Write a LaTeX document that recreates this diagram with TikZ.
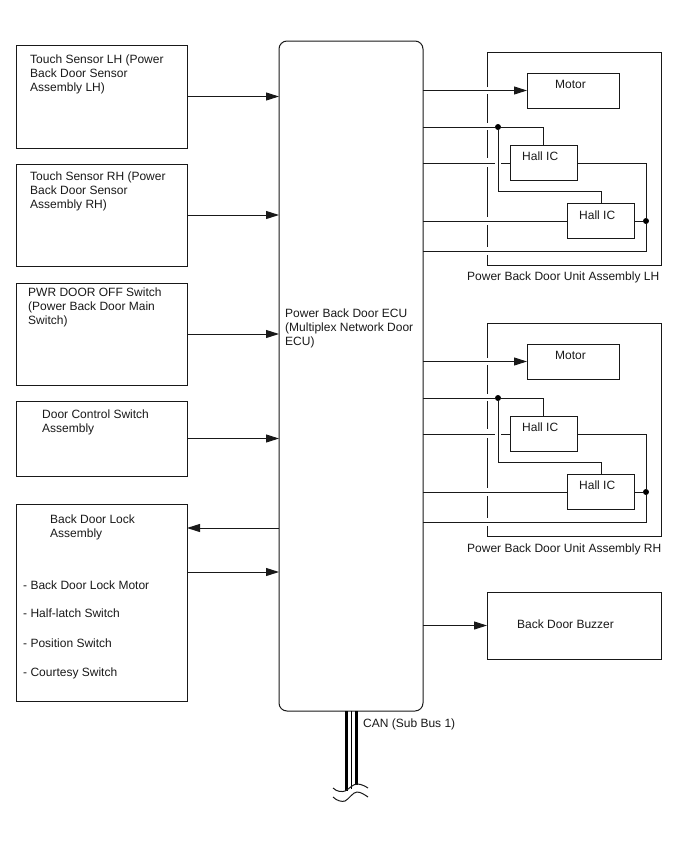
\documentclass[tikz,border=0pt]{standalone}
\usepackage{xcolor}
\usepackage{fontspec}
\usepackage{tikz}
\usetikzlibrary{arrows.meta}
\setmainfont{Liberation Sans}
\definecolor{dark-line}{RGB}{25, 25, 25}
\tikzset{
    boxnode/.style={draw=dark-line, line width=1pt, anchor=north west, inner sep=0pt, outer sep=0pt},
    caption/.style={font=\fontsize{12}{14}\selectfont, align=left, anchor=north west, inner sep=0pt, text=black!90},
    wire/.style={draw=dark-line, line width=1pt},
    feed/.style={wire, -{Triangle[length=13pt,width=8pt]}},
    junction/.style={circle, fill=black, inner sep=0pt, minimum size=6pt},
}

\begin{document}
\begin{tikzpicture}[x=1pt, y=-1pt]
        \useasboundingbox (0,0) rectangle (688,852);
        % ECU
        \node[boxnode, rounded corners=8pt, minimum width=144pt, minimum height=670pt] (ecu) at (279,41) {};
        \node[caption] (ecutext) at (285,309) {Power Back Door ECU\\(Multiplex Network Door\\ECU)};
        % Inputs on the left
        \node[boxnode, minimum width=171pt, minimum height=103pt] (touchl) at (16,45) {};
        \node[caption] (touchltext) at (30,55) {Touch Sensor LH (Power\\Back Door Sensor\\Assembly LH)};
        \node[boxnode, minimum width=171pt, minimum height=102pt] (touchr) at (16,164) {};
        \node[caption] (touchrtext) at (30,172) {Touch Sensor RH (Power\\Back Door Sensor\\Assembly RH)};
        \node[boxnode, minimum width=171pt, minimum height=102pt] (pwr) at (16,283) {};
        \node[caption] (pwrtext) at (28,288) {PWR DOOR OFF Switch\\(Power Back Door Main\\Switch)};
        \node[boxnode, minimum width=171pt, minimum height=75pt] (doorsw) at (16,401) {};
        \node[caption] (doorswtext) at (42,410) {Door Control Switch\\Assembly};
        \draw[feed] (touchl) -- (ecu.west |- touchl);
        \draw[feed] (touchr) -- (ecu.west |- touchr);
        \draw[feed] (pwr) -- (ecu.west |- pwr);
        \draw[feed] (doorsw) -- (ecu.west |- doorsw);
        % Back door lock
        \node[boxnode, minimum width=171pt, minimum height=197pt] (lock) at (16,504) {};
        \node[caption] (locktext) at (50,515) {Back Door Lock\\Assembly};
        \node[caption] (lockmotor) at (23,581) {- Back Door Lock Motor};
        \node[caption] (lockhalf) at (23,609) {- Half-latch Switch};
        \node[caption] (lockpos) at (23,639) {- Position Switch};
        \node[caption] (lockcourtesy) at (23,668) {- Courtesy Switch};
        \coordinate (lockout) at (187,528);
        \coordinate (lockin) at (187,572);
        \draw[feed] (ecu.west |- lockout) -- (lockout);
        \draw[feed] (lockin) -- (ecu.west |- lockin);
        % Unit LH
        \draw[wire] (487,87) -- (487,52) -- (661,52) -- (661,265) -- (487,265) -- (487,255);
        \draw[wire] (487,94) -- (487,123);
        \draw[wire] (487,130) -- (487,158);
        \draw[wire] (487,167) -- (487,217);
        \draw[wire] (487,225) -- (487,247);
        \node[caption] (unitltext) at (467,272) {Power Back Door Unit Assembly LH};
        \node[boxnode, minimum width=92pt, minimum height=35pt] (motorl) at (527,73) {};
        \node[caption] (motorltext) at (555,80) {Motor};
        \node[boxnode, minimum width=67pt, minimum height=35pt] (hallla) at (510,145.5) {};
        \node[caption] (halllatext) at (522,151.5) {Hall IC};
        \node[boxnode, minimum width=67pt, minimum height=35pt] (halllb) at (567.5,203.5) {};
        \node[caption] (halllbtext) at (579,210.5) {Hall IC};
        \node[junction] (dotl) at (498,127) {};
        \node[junction] (busl) at (646,221) {};
        \draw[feed] (ecu.east |- motorl) -- (motorl);
        \draw[wire] (ecu.east |- dotl) -- (dotl) -- (hallla.north |- dotl) -- (hallla.north);
        \draw[wire] (dotl) |- (halllb.north |- 0,191) -- (halllb.north);
        \draw[wire] (ecu.east |- hallla) -- (495,0 |- hallla);
        \draw[wire] (501,0 |- hallla) -- (hallla.west);
        \draw[wire] (hallla.east) -| (busl);
        \draw[wire] (ecu.east |- busl) -- (halllb.west |- busl);
        \draw[wire] (halllb.east |- busl) -- (busl);
        \draw[wire] (busl) |- (ecu.east |- 0,251);
        % Unit RH
        \draw[wire] (487,358) -- (487,323) -- (661,323) -- (661,536) -- (487,536) -- (487,526);
        \draw[wire] (487,365) -- (487,394);
        \draw[wire] (487,401) -- (487,429);
        \draw[wire] (487,438) -- (487,488);
        \draw[wire] (487,496) -- (487,518);
        \node[caption] (unitrtext) at (467,544) {Power Back Door Unit Assembly RH};
        \node[boxnode, minimum width=92pt, minimum height=35pt] (motorr) at (527,344) {};
        \node[caption] (motorrtext) at (555,351) {Motor};
        \node[boxnode, minimum width=67pt, minimum height=35pt] (hallra) at (510,416.5) {};
        \node[caption] (hallratext) at (522,423) {Hall IC};
        \node[boxnode, minimum width=67pt, minimum height=35pt] (hallrb) at (567.5,474.5) {};
        \node[caption] (hallrbtext) at (579,481) {Hall IC};
        \node[junction] (dotr) at (498,398) {};
        \node[junction] (busr) at (646,492) {};
        \draw[feed] (ecu.east |- motorr) -- (motorr);
        \draw[wire] (ecu.east |- dotr) -- (dotr) -- (hallra.north |- dotr) -- (hallra.north);
        \draw[wire] (dotr) |- (hallrb.north |- 0,462) -- (hallrb.north);
        \draw[wire] (ecu.east |- hallra) -- (495,0 |- hallra);
        \draw[wire] (501,0 |- hallra) -- (hallra.west);
        \draw[wire] (hallra.east) -| (busr);
        \draw[wire] (ecu.east |- busr) -- (hallrb.west |- busr);
        \draw[wire] (hallrb.east |- busr) -- (busr);
        \draw[wire] (busr) |- (ecu.east |- 0,522);
        % Buzzer
        \node[boxnode, minimum width=174pt, minimum height=67pt] (buzzer) at (487,592) {};
        \node[caption] (buzzertext) at (517,620) {Back Door Buzzer};
        \draw[feed] (ecu.east |- buzzer) -- (buzzer);
        % CAN bus
        \coordinate (cana) at (346,791);
        \coordinate (canb) at (351,789);
        \coordinate (canc) at (356,785);
        \draw[black, line width=3pt] (ecu.south -| cana) -- (cana);
        \draw[black, line width=1pt] (ecu.south -| canb) -- (canb);
        \draw[black, line width=3pt] (ecu.south -| canc) -- (canc);
        \node[caption] (cantext) at (363,719) {CAN (Sub Bus 1)};
        \draw[wire] (333,788) .. controls (337,792) and (342,792) .. (345,791) .. controls (349,789) and (353,784) .. (357,784) .. controls (361,784) and (365,786) .. (368,788);
        \draw[wire] (333,797) .. controls (337,801) and (342,802) .. (345,801) .. controls (349,799) and (353,792) .. (357,792) .. controls (361,792) and (365,795) .. (368,797);
    \end{tikzpicture}
\end{document}
